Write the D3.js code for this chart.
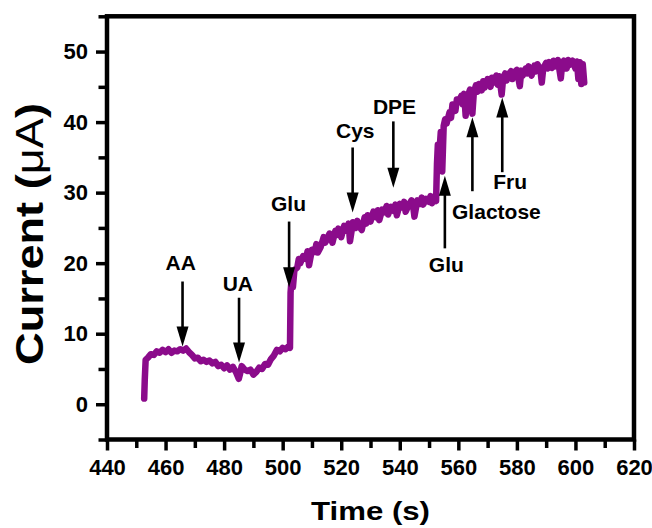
<!DOCTYPE html>
<html>
<head>
<meta charset="utf-8">
<script src="https://cdn.jsdelivr.net/npm/d3@7"></script>
<style>
  body { margin: 0; background: #fff; }
  text { font-family: "Liberation Sans", Arial, sans-serif; font-weight: bold; }
</style>
</head>
<body>
<svg id="chart"></svg>
<script>
// amperometric trace, [time (s), current (uA)]
const trace = [
  [452.7, 0.8], [452.9, 3.5], [453.2, 6.3], [454, 6.6], [455, 7.1], [456, 7.0], [457, 7.5], [458, 7.3],
  [459, 7.7], [460, 7.4], [461, 7.8], [462, 7.3], [463, 7.6], [464, 7.5], [465, 7.8], [466, 7.6],
  [467, 7.9], [468, 7.4], [469, 7.0], [470, 6.5], [471, 6.6], [472, 6.1], [473, 6.3], [474, 6.0],
  [475, 6.2], [476, 5.8], [477, 6.0], [478, 5.4], [479, 5.6], [480, 5.1], [481, 5.5], [482, 4.9],
  [483, 5.3], [484, 4.6], [485, 3.6], [485.5, 4.4], [486, 5.4], [487, 4.9], [488, 4.7], [489, 4.9],
  [490, 4.2], [491, 4.6], [492, 5.2], [493, 5.0], [494, 5.7], [495, 5.6], [496, 6.4], [497, 6.9],
  [498, 7.7], [499, 7.5], [500, 8.0], [501, 7.8], [502, 8.2], [502.5, 8.0], [502.7, 15.8], [503, 17.5],
  [503.5, 16.6], [504, 19.0], [505, 19.4], [505.5, 20.6], [506, 20.0], [507, 21.0], [508, 20.6], [508.5, 21.7],
  [509, 19.7], [510, 21.9], [511, 21.6], [511.5, 22.7], [512, 21.5], [513, 22.3], [514, 23.7], [514.5, 22.9],
  [515, 23.3], [516, 24.2], [517, 22.9], [518, 24.6], [518.5, 24.0], [519, 24.9], [520, 23.7], [521, 25.3],
  [522, 24.6], [522.5, 25.6], [523, 23.1], [524, 25.8], [525, 25.0], [525.5, 26.0], [526, 25.3], [527, 24.7],
  [528, 26.5], [528.5, 25.6], [529, 26.8], [530, 25.9], [531, 27.3], [532, 26.5], [532.5, 27.5], [533, 26.1],
  [534, 27.6], [535, 27.2], [535.5, 28.1], [536, 26.9], [537, 28.0], [538, 27.4], [538.5, 28.3], [539, 26.8],
  [540, 28.4], [541, 27.9], [541.5, 28.7], [542, 27.3], [543, 28.2], [544, 28.9], [544.5, 28.3], [545, 26.6],
  [546, 28.9], [547, 28.4], [547.5, 29.3], [548, 28.3], [549, 29.1], [550, 28.7], [550.5, 29.5], [551, 28.5],
  [552, 29.5], [552.4, 28.8], [552.7, 34.0], [553, 36.8], [553.5, 35.5], [554, 38.6], [554.5, 33.0], [555, 39.5],
  [555.5, 40.4], [556, 39.8], [557, 41.4], [557.5, 40.6], [558, 42.5], [559, 41.6], [559.5, 43.2], [560, 42.8],
  [561, 43.7], [561.5, 42.5], [562, 44.0], [562.5, 40.9], [563, 43.4], [564, 44.6], [564.8, 41.2], [565.3, 44.2],
  [566, 45.2], [566.5, 44.3], [567, 45.4], [568, 44.5], [568.5, 45.8], [569, 44.9], [570, 46.1], [571, 45.0],
  [571.5, 46.3], [572, 45.6], [573, 46.6], [573.5, 45.3], [574, 46.5], [574.8, 43.9], [575.3, 46.2], [576, 46.9],
  [576.5, 45.9], [577, 46.7], [578, 47.2], [578.5, 46.1], [579, 47.0], [580, 47.4], [581, 45.1], [581.5, 47.3],
  [582, 46.6], [583, 47.6], [583.5, 46.9], [584, 47.9], [585, 46.6], [586, 48.0], [586.5, 47.2], [587, 48.2],
  [588, 47.5], [588.5, 45.6], [589, 47.6], [590, 48.4], [590.5, 47.6], [591, 48.5], [592, 47.7], [592.5, 48.7],
  [593, 47.9], [594, 48.8], [595, 46.2], [595.5, 48.4], [596, 48.7], [597, 47.6], [597.5, 48.8], [598, 48.1],
  [599, 48.7], [600, 47.6], [600.5, 48.6], [601, 46.1], [601.5, 48.5], [602, 45.4], [602.5, 48.2], [603, 45.6]
];

// injections: label, arrow time, arrow tail / tip current, label anchor (time, current)
const injections = [
  { label: 'AA',       t: 465.8, tail: 17.4, tip: 8.2,  lt: 465.2, lv: 19.1 },
  { label: 'UA',       t: 485.1, tail: 15.1, tip: 5.9,  lt: 484.7, lv: 16.0 },
  { label: 'Glu',      t: 502.2, tail: 25.9, tip: 16.6, lt: 502.0, lv: 27.4 },
  { label: 'Cys',      t: 523.9, tail: 36.4, tip: 27.2, lt: 524.8, lv: 37.8 },
  { label: 'DPE',      t: 537.8, tail: 40.1, tip: 30.7, lt: 538.2, lv: 41.1 },
  { label: 'Glu',      t: 555.4, tail: 22.1, tip: 32.4, lt: 555.9, lv: 18.7 },
  { label: 'Glactose', t: 564.8, tail: 30.2, tip: 40.7, lt: 573.0, lv: 26.2 },
  { label: 'Fru',      t: 575.0, tail: 32.9, tip: 43.5, lt: 577.7, lv: 30.5 }
];

const xMajorTicks = [440, 460, 480, 500, 520, 540, 560, 580, 600, 620];
const xMinorTicks = [450, 470, 490, 510, 530, 550, 570, 590, 610];
const yMajorTicks = [0, 10, 20, 30, 40, 50];
const yMinorTicks = [-5, 5, 15, 25, 35, 45, 55];

class TraceChart {
  constructor(_config, _data, _marks) {
    this.config = {
      parentElement: _config.parentElement,
      containerWidth: _config.containerWidth || 652,
      containerHeight: _config.containerHeight || 528,
      margin: _config.margin || {top: 16.3, right: 18, bottom: 88.5, left: 107}
    };
    this.data = _data;
    this.marks = _marks;
    this.initVis();
  }

  initVis() {
    let vis = this;
    vis.width = vis.config.containerWidth - vis.config.margin.left - vis.config.margin.right;
    vis.height = vis.config.containerHeight - vis.config.margin.top - vis.config.margin.bottom;

    vis.xScale = d3.scaleLinear().domain([440, 620]).range([0, vis.width]);
    vis.yScale = d3.scaleLinear().domain([-5, 55]).range([vis.height, 0]);

    vis.svg = d3.select(vis.config.parentElement)
      .attr('width', vis.config.containerWidth)
      .attr('height', vis.config.containerHeight);

    vis.chart = vis.svg.append('g')
      .attr('transform', `translate(${vis.config.margin.left},${vis.config.margin.top})`);

    vis.renderVis();
  }

  renderVis() {
    let vis = this;

    // minor ticks first, no labels
    vis.chart.append('g')
      .attr('transform', `translate(0,${vis.height})`)
      .call(d3.axisBottom(vis.xScale).tickValues(xMinorTicks).tickSize(8.5).tickFormat(''))
      .call(g => g.select('.domain').remove());
    vis.chart.append('g')
      .call(d3.axisLeft(vis.yScale).tickValues(yMinorTicks).tickSize(8.5).tickFormat(''))
      .call(g => g.select('.domain').remove());

    vis.chart.append('g')
      .attr('transform', `translate(0,${vis.height})`)
      .call(d3.axisBottom(vis.xScale).tickValues(xMajorTicks).tickSize(11).tickPadding(9).tickFormat(d3.format('d')))
      .call(g => g.select('.domain').remove());
    vis.chart.append('g')
      .call(d3.axisLeft(vis.yScale).tickValues(yMajorTicks).tickSize(11).tickPadding(8).tickFormat(d3.format('d')))
      .call(g => g.select('.domain').remove());

    vis.chart.selectAll('.tick line').attr('stroke', '#000').attr('stroke-width', 3.5);
    vis.chart.selectAll('.tick text')
      .attr('fill', '#000')
      .style('font-size', '22px')
      .style('font-family', '"Liberation Sans", Arial, sans-serif')
      .style('font-weight', 'bold');

    // frame
    vis.chart.append('rect')
      .attr('width', vis.width)
      .attr('height', vis.height)
      .attr('fill', 'none')
      .attr('stroke', '#000')
      .attr('stroke-width', 4.5);

    // the trace
    const line = d3.line()
      .x(d => vis.xScale(d[0]))
      .y(d => vis.yScale(d[1]));
    vis.chart.append('path')
      .datum(vis.data)
      .attr('d', line)
      .attr('fill', 'none')
      .attr('stroke', '#8b0b8b')
      .attr('stroke-width', 6.5)
      .attr('stroke-linejoin', 'round')
      .attr('stroke-linecap', 'round');

    // arrows
    const headLen = 20, headHalf = 6;
    const arrows = vis.chart.selectAll('.arrow')
      .data(vis.marks)
      .join('g')
      .attr('class', 'arrow');
    arrows.append('line')
      .attr('x1', d => vis.xScale(d.t))
      .attr('x2', d => vis.xScale(d.t))
      .attr('y1', d => vis.yScale(d.tail))
      .attr('y2', d => {
        const dir = Math.sign(vis.yScale(d.tip) - vis.yScale(d.tail));
        return vis.yScale(d.tip) - dir * (headLen - 2);
      })
      .attr('stroke', '#000')
      .attr('stroke-width', 2.6);
    arrows.append('path')
      .attr('d', d => {
        const x = vis.xScale(d.t), y = vis.yScale(d.tip);
        const dir = Math.sign(y - vis.yScale(d.tail));
        return `M${x},${y}L${x - headHalf},${y - dir * headLen}L${x + headHalf},${y - dir * headLen}Z`;
      })
      .attr('fill', '#000');
    arrows.append('text')
      .attr('x', d => vis.xScale(d.lt))
      .attr('y', d => vis.yScale(d.lv))
      .attr('text-anchor', 'middle')
      .style('font-size', '21px')
      .text(d => d.label);

    // axis titles
    vis.svg.append('text')
      .attr('x', vis.config.margin.left + vis.width / 2)
      .attr('y', 519.5)
      .attr('text-anchor', 'middle')
      .attr('textLength', 119)
      .attr('lengthAdjust', 'spacingAndGlyphs')
      .style('font-size', '26px')
      .text('Time (s)');

    const yTitle = vis.svg.append('text')
      .attr('transform', 'translate(42.5,234) rotate(-90)')
      .attr('text-anchor', 'middle')
      .attr('textLength', 262)
      .attr('lengthAdjust', 'spacingAndGlyphs')
      .style('font-size', '38px');
    yTitle.append('tspan').text('Current (');
    yTitle.append('tspan').style('font-weight', 'normal').text('\u03bcA');
    yTitle.append('tspan').text(')');
  }
}

const chart = new TraceChart({ parentElement: '#chart' }, trace, injections);
</script>
</body>
</html>
